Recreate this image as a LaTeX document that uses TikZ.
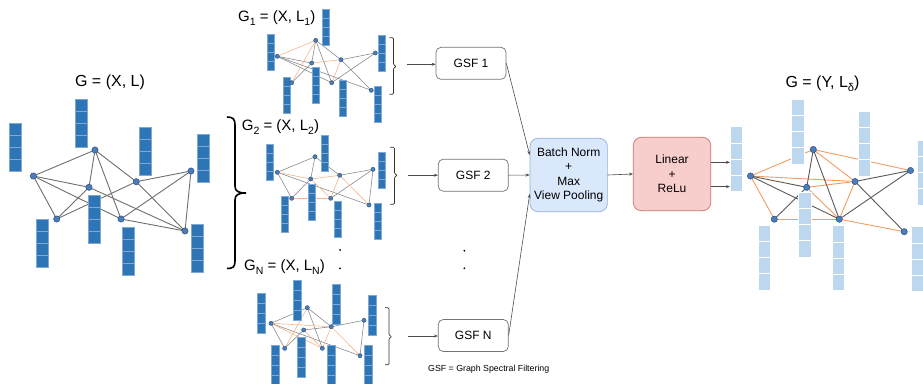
\documentclass[tikz,border=0pt]{standalone}
\usepackage{fontspec}
\setmainfont{Liberation Sans}
\usetikzlibrary{arrows.meta,calc}

\definecolor{cdark}{HTML}{2E75B6}
\definecolor{cdarkline}{HTML}{7FA8D4}
\definecolor{clight}{HTML}{BDD7EE}
\definecolor{cnode}{HTML}{4A7EBB}
\definecolor{cnodeline}{HTML}{2F4F7F}
\definecolor{cedge}{HTML}{6E6E6E}
\definecolor{corange}{HTML}{F29D62}
\definecolor{corangel}{HTML}{F6B58C}
\definecolor{bnfill}{HTML}{DAE8FC}
\definecolor{bnline}{HTML}{8FB0DC}
\definecolor{linfill}{HTML}{F8CECC}
\definecolor{linline}{HTML}{C9706D}

% feature column: x, top y, width, cell height, style
\newcommand\fcol[5]{\foreach \k in {0,...,3}{\path[#5] (#1,{#2+\k*#4}) rectangle ++(#3,#4);}}
\newcommand\lsub[1]{\raisebox{-0.28em}{\scalebox{0.7}{#1}}}

\begin{document}
\begin{tikzpicture}[x=1pt,y=-1pt,
  bnode/.style={circle, fill=cnode, draw=cnodeline, line width=0.5pt, inner sep=0pt, minimum size=6.3pt},
  snode/.style={bnode, minimum size=4.2pt, line width=0.4pt},
  bedge/.style={draw=cedge, line width=0.9pt},
  sedge/.style={draw=cedge!85!white, line width=0.55pt},
  soedge/.style={draw=corangel, line width=0.6pt},
  redge/.style={draw=black!65, line width=0.9pt},
  roedge/.style={draw=corange, line width=0.9pt},
  darkcell/.style={fill=cdark, draw=cdarkline, line width=0.4pt},
  lightcell/.style={fill=clight, draw=white, line width=0.8pt},
  gsfbox/.style={draw=black!55, line width=0.7pt, rounded corners=5pt, fill=white,
    minimum width=70pt, minimum height=32pt, inner sep=0pt, font=\fontsize{12}{14}\selectfont},
  conn/.style={draw=black!70, line width=0.6pt, -{Stealth[length=4pt,width=3pt]}},
  sbrace/.style={draw=black!80, line width=0.7pt, rounded corners=1.2pt},
  title/.style={inner sep=0pt, font=\fontsize{16}{19}\selectfont},
  stitle/.style={inner sep=0pt, anchor=base west, font=\fontsize{15}{18}\selectfont},
  dot/.style={circle, fill=black, inner sep=0pt, minimum size=2pt}
]
\useasboundingbox (0,0) rectangle (923,383);

% ---------------- left graph ----------------
\node[title, anchor=base] (tG) at (110,86.5) {G = (X, L)};
\coordinate (A) at (33.3,176);  \coordinate (B) at (95,150);
\coordinate (C) at (89,187.3);  \coordinate (D) at (136.3,181.7);
\coordinate (E) at (191,171);   \coordinate (F) at (56.7,219);
\coordinate (G) at (121,219);   \coordinate (H) at (185,231);
\foreach \u/\v in {A/B,A/C,A/F,A/G,C/H,B/C,B/D,B/G,F/C,F/D,D/E,D/H,G/E,G/H,E/H}
  \draw[bedge] (\u) -- (\v);
\foreach \x/\y in {9.3/123, 75.3/99, 138.7/127.3, 197.3/134, 36.3/219, 88.3/194.7, 122.3/226.7, 191/224.3}
  {\fcol{\x}{\y}{12.3}{12}{darkcell}}
\foreach \n in {A,B,C,D,E,F,G,H} \node[bnode] (n\n) at (\n) {};

% big brace
\draw[line width=1.6pt] (227,117) .. controls (233,117) and (235,119) .. (235,125)
  -- (235,186) .. controls (235,191) and (238,193) .. (246,193)
  .. controls (238,193) and (235,195) .. (235,200)
  -- (235,261) .. controls (235,267) and (233,268.5) .. (227,268.5);

% ---------------- G1 ----------------
\node[stitle] (tG1) at (238,21.7) {G\lsub{1} = (X, L\lsub{1})};
\coordinate (p1a) at (315.7,40.3); \coordinate (p1b) at (277.3,56.3);
\coordinate (p1c) at (311.7,63);   \coordinate (p1d) at (341,59.7);
\coordinate (p1e) at (375.3,53);   \coordinate (p1f) at (291.7,82.7);
\coordinate (p1g) at (331.7,82.7); \coordinate (p1h) at (371.3,90.3);
\foreach \u/\v in {a/c,a/d,a/g,b/c,b/g,b/h,f/c,d/e,e/g,d/h}
  \draw[sedge] (p1\u) -- (p1\v);
\foreach \u/\v in {b/a,a/f,c/d,d/g}
  \draw[soedge] (p1\u) -- (p1\v);
\foreach \x/\y in {266.7/34.3, 322.3/9.3, 378/34.7, 282.7/77.3, 312.3/66.7, 339/80, 374.3/86}
  {\fcol{\x}{\y}{7}{9}{darkcell}}
\foreach \n in {a,b,c,d,e,f,g,h} \node[snode] (n1\n) at (p1\n) {};
\draw[sbrace] (389.3,37.7) -- (393.5,37.7) -- (393.5,65) -- (396.5,66.5) -- (393.5,68) -- (393.5,94.3) -- (389.3,94.3);
\coordinate (s1) at (406.7,64.3);

% ---------------- G2 ----------------
\node[stitle] (tG2) at (241.7,130.7) {G\lsub{2} = (X, L\lsub{2})};
\coordinate (p2a) at (315,156.7);   \coordinate (p2b) at (277.3,172.3);
\coordinate (p2c) at (310.7,179);   \coordinate (p2d) at (339.7,175.3);
\coordinate (p2e) at (373,169.3);   \coordinate (p2f) at (291.7,198.3);
\coordinate (p2g) at (330.7,198.3); \coordinate (p2h) at (369,205);
\foreach \u/\v in {b/a,a/c,a/d,b/f,b/h,f/c,d/e,e/h,e/g}
  \draw[sedge] (p2\u) -- (p2\v);
\foreach \u/\v in {b/c,c/d,f/g,c/g,d/g,d/h}
  \draw[soedge] (p2\u) -- (p2\v);
\foreach \x/\y in {265.7/144, 320.7/135, 378/152.3, 280.7/196, 308.3/184, 334/200.7, 374/202.7}
  {\fcol{\x}{\y}{7}{9}{darkcell}}
\foreach \n in {a,b,c,d,e,f,g,h} \node[snode] (n2\n) at (p2\n) {};
\draw[sbrace] (390,147.3) -- (394.5,147.3) -- (394.5,173.8) -- (397.5,175.3) -- (394.5,176.8) -- (394.5,204.3) -- (390,204.3);
\coordinate (s2) at (408,175.2);

% ---------------- GN ----------------
\node[stitle] (tGN) at (244,270.7) {G\lsub{N} = (X, L\lsub{N})};
\coordinate (pNa) at (307.3,307.7); \coordinate (pNb) at (271,323.3);
\coordinate (pNc) at (303.7,330);   \coordinate (pNd) at (331.3,326.7);
\coordinate (pNe) at (364,320.3);   \coordinate (pNf) at (284.7,348.3);
\coordinate (pNg) at (322.3,348.3); \coordinate (pNh) at (360,355.7);
\foreach \u/\v in {b/a,a/d,a/g,b/h,b/f,f/c,c/d,d/e,e/h}
  \draw[sedge] (pN\u) -- (pN\v);
\foreach \u/\v in {a/f,b/d,b/g,c/g,d/g,d/h}
  \draw[soedge] (pN\u) -- (pN\v);
\foreach \x/\y in {257.3/293, 293.3/280, 332/284, 368/295, 271.3/345, 297.3/337, 327.3/345, 364/345}
  {\fcol{\x}{\y}{8}{10}{darkcell}}
\foreach \n in {a,b,c,d,e,f,g,h} \node[snode] (nN\n) at (pN\n) {};
\draw[sbrace] (385,307.7) -- (389,307.7) -- (389,335.2) -- (392,336.7) -- (389,338.2) -- (389,364.7) -- (385,364.7);
\coordinate (sN) at (408,336);

% dots
\node[dot] (d1) at (340,250) {};
\node[dot] (d2) at (340,268.3) {};
\node[dot] (d3) at (464.3,250.7) {};
\node[dot] (d4) at (464.3,268.3) {};

% ---------------- boxes ----------------
\node[gsfbox] (gsf1) at (471,63.3) {GSF 1};
\node[gsfbox] (gsf2) at (473.3,175.2) {GSF 2};
\node[gsfbox] (gsfn) at (473.3,335.5) {GSF N};
\node[draw=bnline, fill=bnfill, line width=0.7pt, rounded corners=8pt, minimum width=77.3pt,
  minimum height=73.4pt, inner sep=0pt, align=center, font=\fontsize{12}{14.3}\selectfont]
  (bn) at (568.7,175) {Batch Norm\\+\\Max\\View Pooling};
\node[draw=linline, fill=linfill, line width=0.7pt, rounded corners=8pt, minimum width=77.4pt,
  minimum height=73.4pt, inner sep=0pt, align=center, font=\fontsize{12}{14.3}\selectfont]
  (lin) at (672,174) {Linear\\+\\ReLu};
\node[inner sep=0pt, anchor=west, font=\fontsize{8.8}{10}\selectfont] (foot) at (428,369) {GSF = Graph Spectral Filtering};

\draw[conn] (s1) -- (s1 -| gsf1.west);
\draw[conn] (s2) -- (s2 -| gsf2.west);
\draw[conn] (sN) -- (sN -| gsfn.west);
\draw[conn] (gsf1.east) -- ($(bn.west)+(0,-20)$);
\draw[conn] (gsf2.east) -- (bn.west);
\draw[conn] (gsfn.east) -- ($(bn.west)+(0,19)$);
\draw[conn] (bn.east) -- (lin.west);
\coordinate (o1) at (730,162.3);
\coordinate (o2) at (730,186.7);
\draw[conn] (o1 -| lin.east) -- (o1);
\draw[conn] (o2 -| lin.east) -- (o2);

% ---------------- right graph ----------------
\node[title, anchor=base] (tR) at (822.5,87.3) {G = (Y, L\lsub{δ})};
\coordinate (R1) at (750.5,176);   \coordinate (R2) at (813.3,149.5);
\coordinate (R3) at (806.7,187.3); \coordinate (R4) at (855,181.5);
\coordinate (R5) at (910.5,170.5); \coordinate (R6) at (774.3,219.2);
\coordinate (R7) at (839.3,219.2); \coordinate (R8) at (904.2,231.7);
\foreach \u/\v in {R1/R2,R1/R4,R1/R6,R2/R4,R2/R5,R3/R4,R3/R7,R4/R7,R6/R7,R7/R8}
  \draw[roedge] (\u) -- (\v);
\foreach \u/\v in {R1/R3,R1/R7,R2/R3,R2/R7,R3/R6,R4/R5,R4/R8,R7/R5}
  \draw[redge] (\u) -- (\v);
\foreach \x/\y in {730/126.7, 791.7/99, 858/111, 917.5/140, 758/225, 798.7/192, 832/225.7, 911.7/226.7}
  {\fcol{\x}{\y}{12.5}{16.25}{lightcell}}
\foreach \n in {R1,R2,R3,R4,R5,R6,R7,R8} \node[bnode] (n\n) at (\n) {};
\end{tikzpicture}
\end{document}
